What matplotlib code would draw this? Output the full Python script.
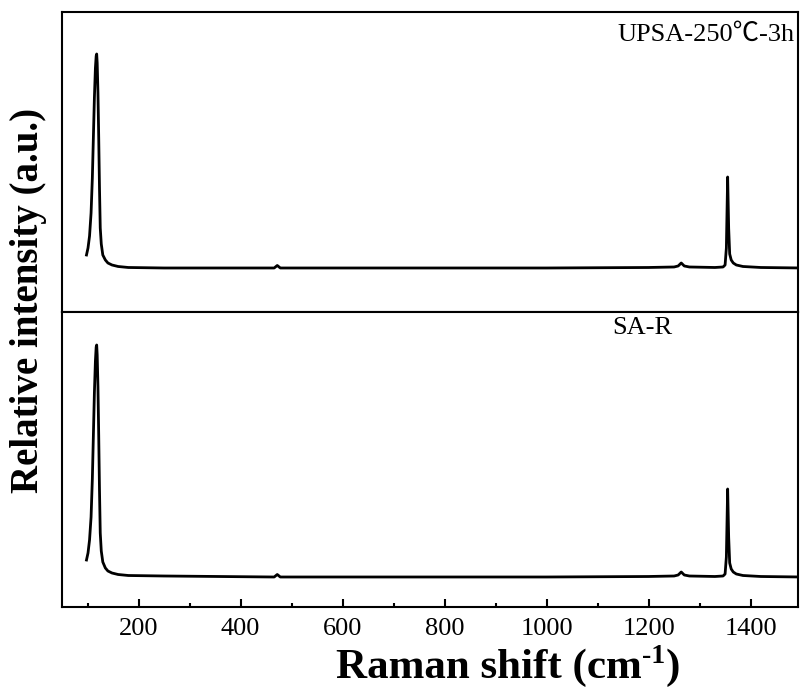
import matplotlib
matplotlib.use('Agg')
import matplotlib.pyplot as plt
from matplotlib.ticker import MultipleLocator

plt.rcParams['font.family'] = ['Liberation Serif', 'DejaVu Serif']

# Raman shift (cm-1) and intensity (a.u.)
shift = [98, 101, 104, 107, 109.5, 111.5, 113.5, 115.5, 117, 118, 119, 120.5, 122, 123.5,
         125, 127, 130, 135, 140, 148, 160, 180, 250, 400, 466, 472, 478, 600, 800, 1000,
         1200, 1250, 1258, 1264, 1270, 1280, 1330, 1346, 1350, 1352.5, 1355, 1357, 1359,
         1362, 1366, 1372, 1385, 1420, 1500]

upsa = [57, 64, 76, 99, 134, 174, 214, 244, 256, 258, 249, 219, 174, 124,
        84, 68, 57, 52, 49, 47, 45.5, 44.5, 44, 44, 44, 46.5, 44, 44, 44, 44,
        44.5, 45, 46, 49, 46, 45, 44.5, 45, 47, 64, 135, 84, 58,
        52, 49, 47, 45.5, 44.5, 44]

sa_r = [47, 54, 67, 90, 128, 171, 214, 246, 260, 262, 252, 220, 171, 117,
        74, 56, 45, 39, 36, 34, 32.5, 31.5, 31, 30.3, 30, 32.5, 30, 30, 30, 30,
        30.5, 31, 32, 35, 32, 31, 30.5, 31, 33, 50, 118, 70, 44,
        38, 35, 33, 31.5, 30.5, 30]

labels = ['UPSA-250\u2103-3h', 'SA-R']

fig = plt.figure(figsize=(8.01, 6.93), dpi=100)
ax_top = fig.add_axes([0.0774, 0.5498, 0.9189, 0.4329])
ax_bot = fig.add_axes([0.0774, 0.1241, 0.9189, 0.4257])

ax_top.plot(shift, upsa, color='black', lw=2)
ax_bot.plot(shift, sa_r, color='black', lw=2)

ax_top.set_ylim(0, 300)
ax_bot.set_ylim(0, 295)

for ax in (ax_top, ax_bot):
    ax.set_xlim(50, 1493)
    ax.set_yticks([])
    for s in ax.spines.values():
        s.set_linewidth(1.5)

ax_top.set_xticks([])
ax_bot.xaxis.set_major_locator(MultipleLocator(200))
ax_bot.xaxis.set_minor_locator(MultipleLocator(100))
ax_bot.tick_params(axis='x', which='major', direction='in', length=6, width=1.5,
                   labelsize=19, pad=8)
ax_bot.tick_params(axis='x', which='minor', direction='in', length=3, width=1.5)

ax_top.text(0.996, 0.923, labels[0], transform=ax_top.transAxes, ha='right', va='center',
            fontsize=19, family=['Liberation Serif', 'Noto Sans CJK SC'])
ax_bot.text(0.747, 0.946, labels[1], transform=ax_bot.transAxes, ha='left', va='center',
            fontsize=19)

# x label with a hyphen superscript, built from three pieces
W, H = fig.get_size_inches() * fig.dpi
r = fig.canvas.get_renderer()
base_y = 0.022
p1 = fig.text(0, base_y, 'Raman shift (cm', ha='left', va='baseline', fontsize=31, fontweight='bold')
p2 = fig.text(0, base_y + 15 / H, '-1', ha='left', va='baseline', fontsize=20, fontweight='bold')
p3 = fig.text(0, base_y, ')', ha='left', va='baseline', fontsize=31, fontweight='bold')
w1 = p1.get_window_extent(r).width
w2 = p2.get_window_extent(r).width
w3 = p3.get_window_extent(r).width
x0 = 0.634 * W - (w1 + w2 + w3) / 2
p1.set_x(x0 / W)
p2.set_x((x0 + w1) / W)
p3.set_x((x0 + w1 + w2) / W)

fig.text(0.035, 0.567, 'Relative intensity (a.u.)', ha='center', va='center',
         rotation=90, fontsize=28, fontweight='bold')

fig.savefig('out.png', dpi=100)
